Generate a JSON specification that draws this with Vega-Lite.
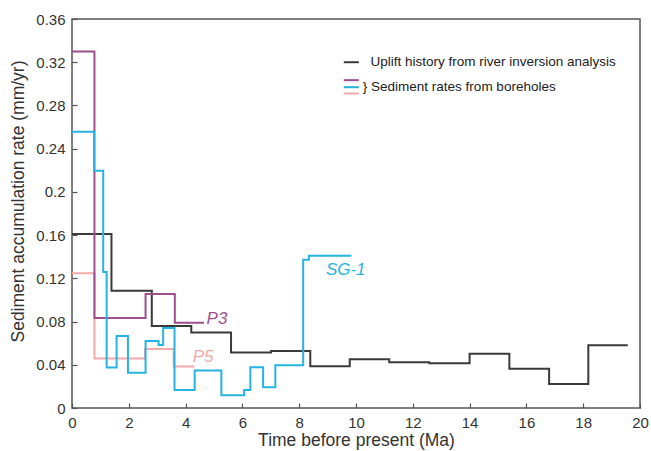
{
  "$schema": "https://vega.github.io/schema/vega-lite/v6.json",
  "autosize": {"type": "none"},
  "padding": {"left": 72, "top": 19, "right": 11, "bottom": 43},
  "width": 568,
  "height": 389,
  "background": "white",
  "config": {
    "font": "Liberation Sans",
    "view": {"stroke": "#555555", "strokeWidth": 1.5},
    "axis": {
      "grid": false,
      "domain": false,
      "tickSize": -5,
      "tickColor": "#555555",
      "tickWidth": 1.2,
      "labelFlush": false,
      "labelFont": "Liberation Sans",
      "labelFontSize": 15,
      "labelColor": "#333333",
      "titleFont": "Liberation Sans",
      "titleFontSize": 17.5,
      "titleFontWeight": "normal",
      "titleColor": "#333333"
    }
  },
  "datasets": {
    "lines": [
      {"series": "Uplift", "x": 0, "y": 0.161},
      {"series": "Uplift", "x": 1.39, "y": 0.1085},
      {"series": "Uplift", "x": 2.81, "y": 0.0758},
      {"series": "Uplift", "x": 4.2, "y": 0.0698},
      {"series": "Uplift", "x": 5.6, "y": 0.0514},
      {"series": "Uplift", "x": 7.01, "y": 0.0528},
      {"series": "Uplift", "x": 8.39, "y": 0.0386},
      {"series": "Uplift", "x": 9.78, "y": 0.0451},
      {"series": "Uplift", "x": 11.17, "y": 0.0424},
      {"series": "Uplift", "x": 12.58, "y": 0.0415},
      {"series": "Uplift", "x": 14.0, "y": 0.0503},
      {"series": "Uplift", "x": 15.4, "y": 0.0364},
      {"series": "Uplift", "x": 16.8, "y": 0.0222},
      {"series": "Uplift", "x": 18.18, "y": 0.0581},
      {"series": "Uplift", "x": 19.57, "y": 0.0581},
      {"series": "P5", "x": 0, "y": 0.1248},
      {"series": "P5", "x": 0.79, "y": 0.0457},
      {"series": "P5", "x": 2.57, "y": 0.0547},
      {"series": "P5", "x": 3.58, "y": 0.0383},
      {"series": "P5", "x": 4.31, "y": 0.0383},
      {"series": "P3", "x": 0, "y": 0.33},
      {"series": "P3", "x": 0.79, "y": 0.0834},
      {"series": "P3", "x": 2.59, "y": 0.1056},
      {"series": "P3", "x": 3.62, "y": 0.079},
      {"series": "P3", "x": 4.65, "y": 0.079},
      {"series": "SG-1", "x": 0, "y": 0.2556},
      {"series": "SG-1", "x": 0.78, "y": 0.2195},
      {"series": "SG-1", "x": 1.1, "y": 0.1258},
      {"series": "SG-1", "x": 1.22, "y": 0.0374},
      {"series": "SG-1", "x": 1.57, "y": 0.0667},
      {"series": "SG-1", "x": 1.97, "y": 0.0327},
      {"series": "SG-1", "x": 2.59, "y": 0.0621},
      {"series": "SG-1", "x": 3.05, "y": 0.0584},
      {"series": "SG-1", "x": 3.21, "y": 0.0741},
      {"series": "SG-1", "x": 3.61, "y": 0.0167},
      {"series": "SG-1", "x": 4.32, "y": 0.0346},
      {"series": "SG-1", "x": 5.26, "y": 0.0118},
      {"series": "SG-1", "x": 6.06, "y": 0.0167},
      {"series": "SG-1", "x": 6.28, "y": 0.0377},
      {"series": "SG-1", "x": 6.73, "y": 0.0192},
      {"series": "SG-1", "x": 7.16, "y": 0.0396},
      {"series": "SG-1", "x": 8.14, "y": 0.1371},
      {"series": "SG-1", "x": 8.34, "y": 0.1408},
      {"series": "SG-1", "x": 9.84, "y": 0.1408}
    ],
    "labels": [
      {"series": "P3", "x": 4.74, "y": 0.0825, "text": "P3"},
      {"series": "P5", "x": 4.25, "y": 0.0473, "text": "P5"},
      {"series": "SG-1", "x": 8.94, "y": 0.128, "text": "SG-1"}
    ],
    "legendLines": [
      {"series": "Uplift", "x": 9.57, "x2": 10.1, "y": 0.32},
      {"series": "P3", "x": 9.57, "x2": 10.1, "y": 0.3034},
      {"series": "SG-1", "x": 9.57, "x2": 10.1, "y": 0.2969},
      {"series": "P5", "x": 9.57, "x2": 10.1, "y": 0.2911}
    ],
    "legendText": [
      {"x": 10.51, "y": 0.32, "text": "Uplift history from river inversion analysis"},
      {"x": 10.24, "y": 0.2975, "text": "} Sediment rates from boreholes"}
    ]
  },
  "layer": [
    {
      "data": {"name": "lines"},
      "mark": {"type": "line", "interpolate": "step-after", "strokeWidth": 2},
      "encoding": {
        "x": {"field": "x", "type": "quantitative", "scale": {"domain": [0, 20], "nice": false}, "axis": {"values": [0,2,4,6,8,10,12,14,16,18,20], "title": "Time before present (Ma)", "labelPadding": 12, "titlePadding": 1}},
        "y": {"field": "y", "type": "quantitative", "scale": {"domain": [0, 0.36], "nice": false}, "axis": {"values": [0,0.04,0.08,0.12,0.16,0.2,0.24,0.28,0.32,0.36], "format": "~g", "title": "Sediment accumulation rate (mm/yr)", "labelPadding": 12, "titlePadding": 8, "titleY": 182}},
        "color": {"field": "series", "type": "nominal", "scale": {"domain": ["Uplift", "P3", "SG-1", "P5"], "range": ["#3a3a3a", "#9c4f8c", "#25b3e2", "#f2a9a9"]}, "legend": null},
        "detail": {"field": "series"},
        "order": {"field": "x", "type": "quantitative"}
      }
    },
    {
      "data": {"name": "labels"},
      "mark": {"type": "text", "align": "left", "baseline": "middle", "fontSize": 17, "fontStyle": "italic", "font": "Liberation Sans"},
      "encoding": {
        "x": {"field": "x", "type": "quantitative"},
        "y": {"field": "y", "type": "quantitative"},
        "text": {"field": "text"},
        "color": {"field": "series", "type": "nominal", "legend": null}
      }
    },
    {
      "data": {"name": "legendLines"},
      "mark": {"type": "rule", "strokeWidth": 2},
      "encoding": {
        "x": {"field": "x", "type": "quantitative"},
        "x2": {"field": "x2"},
        "y": {"field": "y", "type": "quantitative"},
        "color": {"field": "series", "type": "nominal", "legend": null}
      }
    },
    {
      "data": {"name": "legendText"},
      "mark": {"type": "text", "align": "left", "baseline": "middle", "fontSize": 13.5, "color": "#222222", "font": "Liberation Sans"},
      "encoding": {
        "x": {"field": "x", "type": "quantitative"},
        "y": {"field": "y", "type": "quantitative"},
        "text": {"field": "text"}
      }
    }
  ]
}
